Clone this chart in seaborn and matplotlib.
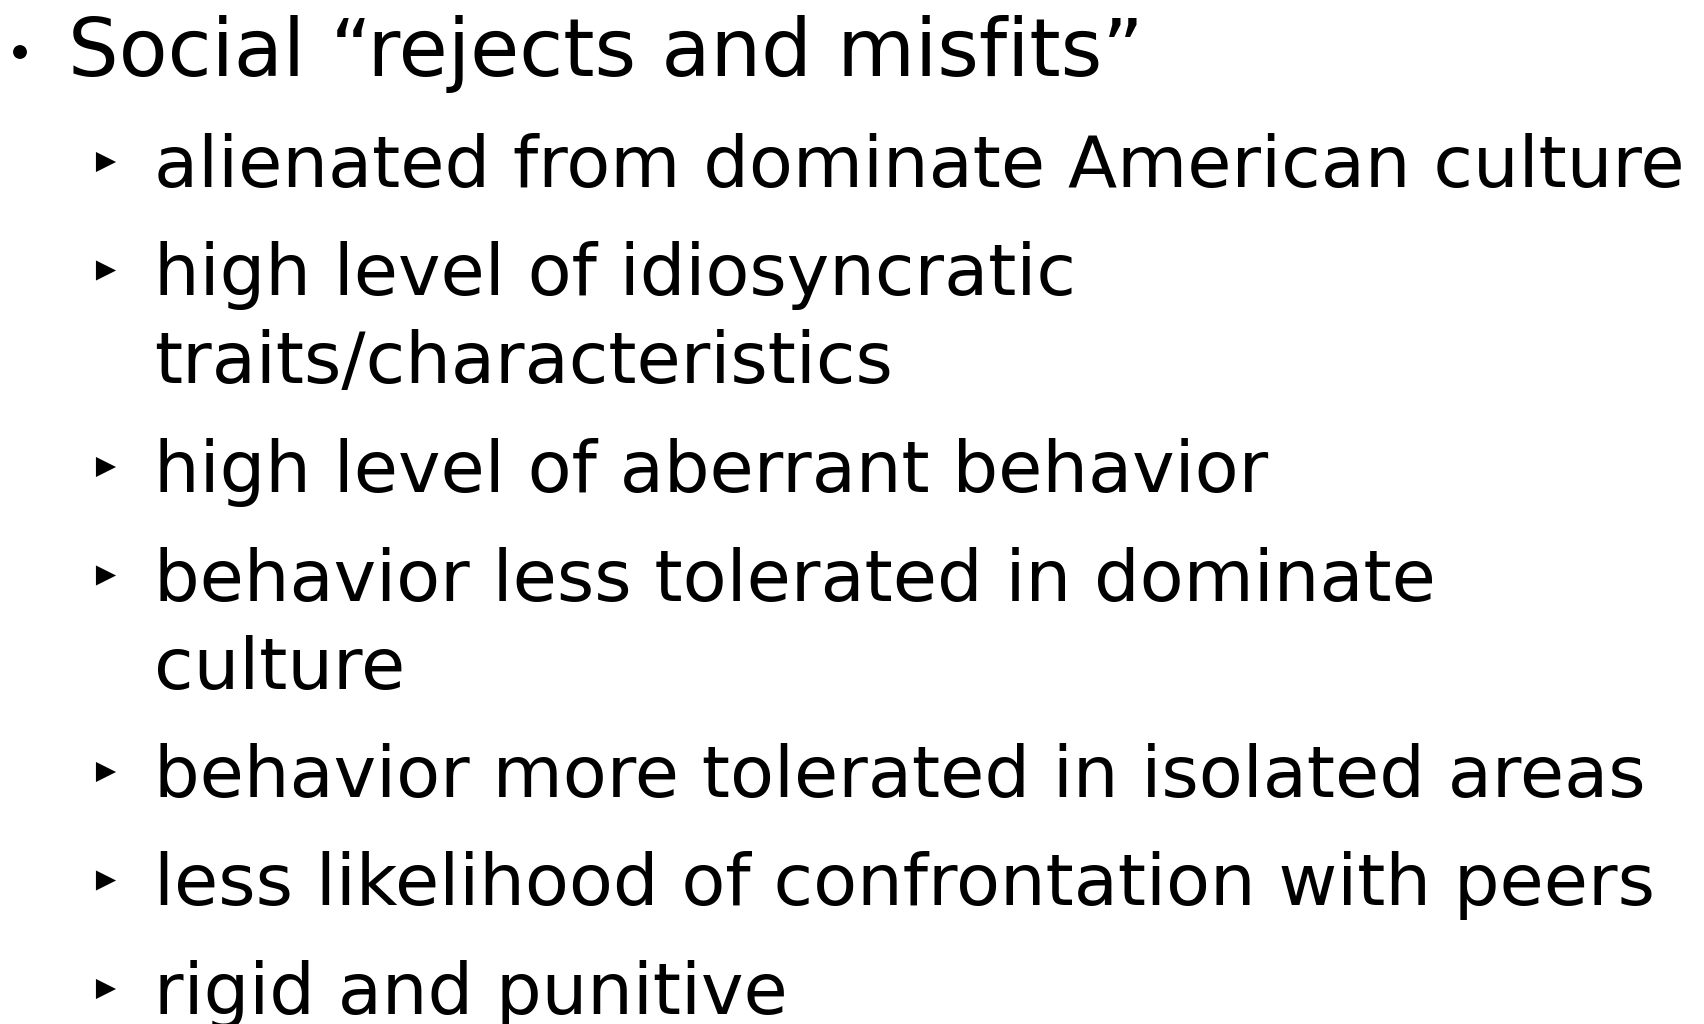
import matplotlib
matplotlib.use("Agg")
import matplotlib.pyplot as plt
import seaborn as sns
import pandas as pd

# slide content
heading = "Social \u201crejects and misfits\u201d"
items = [
    ["alienated from dominate American culture"],
    ["high level of idiosyncratic", "traits/characteristics"],
    ["high level of aberrant behavior"],
    ["behavior less tolerated in dominate", "culture"],
    ["behavior more tolerated in isolated areas"],
    ["less likelihood of confrontation with peers"],
    ["rigid and punitive"],
]

sns.set_theme(style="white")
plt.rcParams['font.family'] = ['DejaVu Sans']

W, H = 1704, 1024
fig = plt.figure(figsize=(W / 100, H / 100), dpi=100)
ax = fig.add_axes([0, 0, 1, 1])
ax.set_xlim(0, W)
ax.set_ylim(H, 0)
ax.axis('off')

renderer = fig.canvas.get_renderer()


def fit_text(x, y, s, size, target_w):
    t = ax.text(x, y, s, fontsize=size, ha='left', va='baseline', color='black')
    w = t.get_window_extent(renderer).width
    t.set_fontsize(size * target_w / w)
    return t


# heading line
head_base = 76
fit_text(68, head_base, heading, 40, 1144 - 68)

# sub-items
sub_x = 154
first_base = 187
item_gap = 108.5
wrap_gap = 88

probe = ax.text(0, 0, items[0][0], fontsize=30)
sub_size = 30 * 1528 / probe.get_window_extent(renderer).width
probe.remove()

bullets = [{'x': 20, 'y': head_base - 24, 'kind': 'dot'}]
y = first_base
for lines in items:
    bullets.append({'x': 106, 'y': y - 25, 'kind': 'tri'})
    for j, line in enumerate(lines):
        ax.text(sub_x, y + j * wrap_gap, line, fontsize=sub_size,
                ha='left', va='baseline', color='black')
    y += item_gap + (len(lines) - 1) * wrap_gap

bdf = pd.DataFrame(bullets)
sns.scatterplot(data=bdf[bdf.kind == 'dot'], x='x', y='y', marker='o', s=100,
                color='black', edgecolor='none', ax=ax, legend=False)
sns.scatterplot(data=bdf[bdf.kind == 'tri'], x='x', y='y', marker='>', s=210,
                color='black', edgecolor='none', ax=ax, legend=False)
ax.set_xlim(0, W)
ax.set_ylim(H, 0)
ax.axis('off')

fig.savefig("out.png", dpi=100, facecolor='white')
